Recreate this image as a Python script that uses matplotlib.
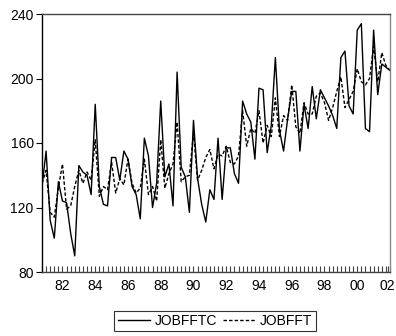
import numpy as np
import matplotlib.pyplot as plt

plt.rcParams['font.family'] = ['Liberation Sans', 'DejaVu Sans']

# quarterly observations, 1980Q4 .. 2002Q1
jobfftc = [133, 155, 112, 101, 136, 124, 123, 104, 90, 146,
           142, 140, 128, 184, 133, 122, 121, 151, 151, 137,
           155, 150, 133, 128, 113, 163, 152, 120, 135, 186,
           139, 147, 121, 204, 145, 139, 117, 174, 138, 122,
           111, 131, 125, 163, 125, 157, 157, 141, 135, 186,
           178, 173, 150, 194, 193, 154, 171, 213, 168, 155,
           175, 192, 192, 155, 184, 169, 195, 175, 193, 188,
           183, 177, 169, 213, 217, 183, 178, 230, 234, 169,
           167, 230, 190, 209, 207, 205]
jobfft = [135, 143, 117, 114, 132, 147, 119, 121, 133, 143,
          135, 142, 137, 162, 127, 133, 131, 148, 129, 138,
          134, 150, 135, 129, 132, 150, 128, 133, 124, 162,
          132, 141, 147, 173, 136, 139, 140, 166, 137, 143,
          151, 156, 144, 153, 152, 158, 148, 147, 152, 180,
          158, 169, 166, 180, 160, 171, 164, 188, 164, 177,
          174, 196, 170, 166, 185, 178, 178, 189, 191, 185,
          174, 182, 192, 201, 182, 187, 192, 206, 198, 196,
          200, 220, 198, 216, 208, 205]
year_labels = ['82', '84', '86', '88', '90', '92', '94', '96', '98', '00', '02']

x = np.arange(len(jobfftc))

fig = plt.figure(figsize=(3.96, 3.36), dpi=100)
ax = fig.add_axes([42 / 396, 64 / 336, 348 / 396, 258 / 336])

l1, = ax.plot(x, jobfftc, color='black', lw=1.0)
l2, = ax.plot(x, jobfft, color='black', lw=1.0, dashes=(2.5, 1.5))

ax.set_xlim(0, len(x) - 1)
ax.set_ylim(80, 240)
ax.set_yticks([80, 120, 160, 200, 240])

label_pos = [5 + 8 * k for k in range(len(year_labels))]
label_pos[-1] = len(x) - 1.6  # last label pulled in so it fits
ax.set_xticks(label_pos)
ax.set_xticklabels(year_labels)
ax.set_xticks(x, minor=True)
ax.tick_params(axis='x', which='both', direction='in', length=4, width=0.8,
               color='#444444', labelsize=10, pad=5)
ax.tick_params(axis='y', direction='out', length=4, width=0.8, labelsize=10, pad=2)

ax.spines['left'].set_color('black')
ax.spines['bottom'].set_color('#444444')
ax.spines['top'].set_color('#444444')
ax.spines['right'].set_color('#888888')
for s in ax.spines.values():
    s.set_linewidth(1.0)

leg = fig.legend([l1, l2], ['JOBFFTC', 'JOBFFT'], loc='center',
                 bbox_to_anchor=(215 / 396, 15 / 336), ncol=2, frameon=True,
                 fancybox=False, fontsize=10, handlelength=2.3,
                 handletextpad=0.35, columnspacing=0.45, borderpad=0.25,
                 borderaxespad=0)
leg.get_frame().set_edgecolor('black')
leg.get_frame().set_linewidth(0.8)

fig.savefig('out.png', dpi=100)
